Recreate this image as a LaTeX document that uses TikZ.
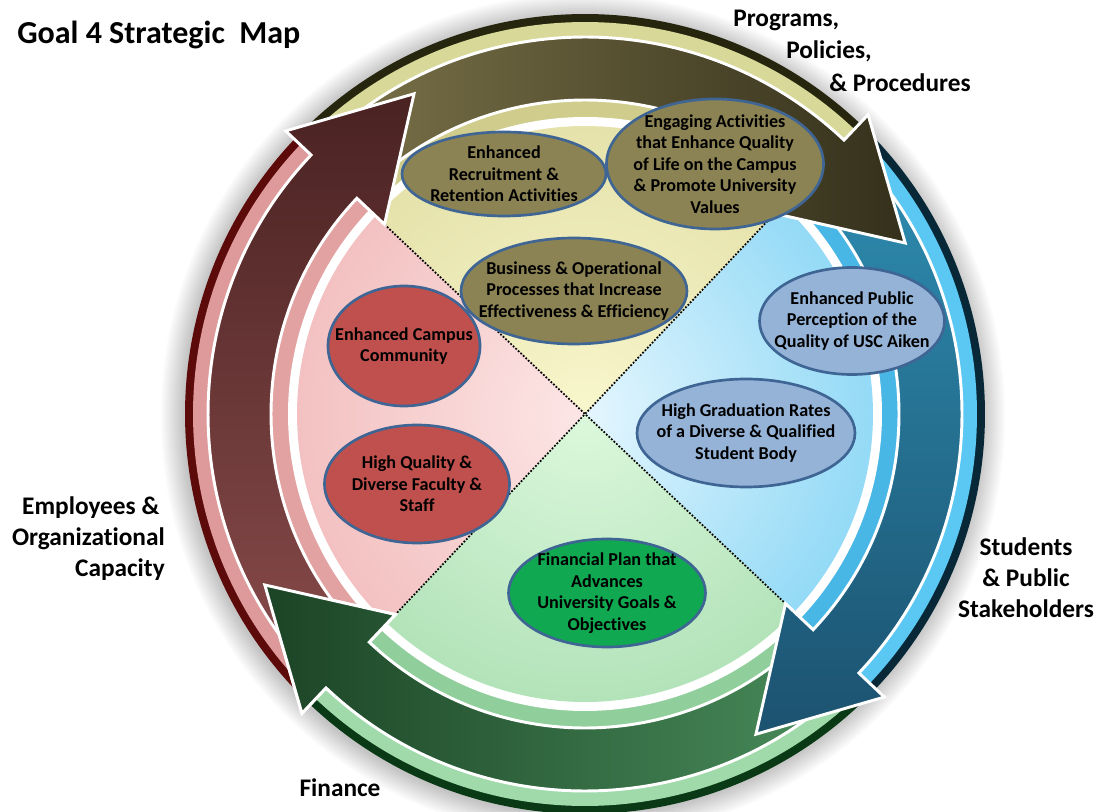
\documentclass[tikz,border=0pt]{standalone}
\usepackage{fontspec}
\setmainfont{Carlito}[Ligatures=NoCommon]
\usetikzlibrary{shapes.geometric}

% quadrant colours: rim dark, rim light, inner band, pie inner, pie outer, arrow light, arrow dark
\definecolor{rRim}{HTML}{5C0A0A}\definecolor{rLt}{HTML}{DE9A9A}\definecolor{rBand}{HTML}{E2A2A2}
\definecolor{rIn}{HTML}{FDE6E6}\definecolor{rOut}{HTML}{E99C9C}\definecolor{rAL}{HTML}{8A4C4C}\definecolor{rAD}{HTML}{4A2222}
\definecolor{oRim}{HTML}{26260F}\definecolor{oLt}{HTML}{D8D898}\definecolor{oBand}{HTML}{CFCC8C}
\definecolor{oIn}{HTML}{F8F6CC}\definecolor{oOut}{HTML}{D2CE8A}\definecolor{oAL}{HTML}{7C744A}\definecolor{oAD}{HTML}{34301B}
\definecolor{bRim}{HTML}{082838}\definecolor{bLt}{HTML}{5AC8F2}\definecolor{bBand}{HTML}{49B7E6}
\definecolor{bIn}{HTML}{E4F6FE}\definecolor{bOut}{HTML}{44BEEE}\definecolor{bAL}{HTML}{2E8EB2}\definecolor{bAD}{HTML}{1C5270}
\definecolor{gRim}{HTML}{0A3A15}\definecolor{gLt}{HTML}{A0DAAA}\definecolor{gBand}{HTML}{90CF9C}
\definecolor{gIn}{HTML}{DCF8DC}\definecolor{gOut}{HTML}{8ACE96}\definecolor{gAL}{HTML}{4A8E5C}\definecolor{gAD}{HTML}{1C4426}
\definecolor{eOlive}{HTML}{8B8354}\definecolor{eRed}{HTML}{C0504D}\definecolor{eGreen}{HTML}{10A850}
\definecolor{eBlue}{HTML}{95B3D7}\definecolor{eBorder}{HTML}{3F6594}

\newcommand\qsector[4]{\fill[#1] (0,0) -- (#2:#4) arc[start angle=#2, end angle=#3, radius=#4] -- cycle;}
\newcommand\qpie[4]{\begin{scope}\clip (0,0) -- (#1:288) arc[start angle=#1, end angle=#2, radius=288] -- cycle;
  \shade[inner color=#3, outer color=#4] (0,0) circle (576);\end{scope}}

\begin{document}
\begin{tikzpicture}[x=0.75pt,y=0.75pt,
  arr/.style={draw=white, line width=2.2pt, line join=miter},
  ov/.style={ellipse, draw=eBorder, line width=2pt, inner sep=0pt},
  etext/.style={align=center, inner sep=0pt, text=black,
    font=\bfseries\fontsize{13.6}{16.1}\selectfont},
  side/.style={inner sep=0pt, text=black, font=\bfseries\fontsize{19}{23.25}\selectfont}]
\useasboundingbox (0,0) rectangle (1098,811);
\fill[white] (0,0) rectangle (1098,811);

\begin{scope}[shift={(585,397)}]
  % soft shadow
  \foreach \i in {1,...,12} \fill[black, opacity=0.02] (-2,-2) circle ({398+2*\i});
  % right quadrant
  \qsector{bRim}{-43.4}{46.6}{400}\qsector{bLt}{-43.4}{46.6}{392}
  \qsector{bBand}{-43.4}{46.6}{314}\qsector{white}{-43.4}{46.6}{297}
  \qpie{-43.4}{46.6}{bIn}{bOut}
  % top quadrant
  \qsector{oRim}{46.6}{136.6}{400}\qsector{oLt}{46.6}{136.6}{392}
  \qsector{oBand}{46.6}{136.6}{314}\qsector{white}{46.6}{136.6}{297}
  \qpie{46.6}{136.6}{oIn}{oOut}
  % left quadrant
  \qsector{rRim}{136.6}{226.6}{400}\qsector{rLt}{136.6}{226.6}{392}
  \qsector{rBand}{136.6}{226.6}{314}\qsector{white}{136.6}{226.6}{297}
  \qpie{136.6}{226.6}{rIn}{rOut}
  % bottom quadrant
  \qsector{gRim}{226.6}{316.6}{400}\qsector{gLt}{226.6}{316.6}{392}
  \qsector{gBand}{226.6}{316.6}{314}\qsector{white}{226.6}{316.6}{297}
  \qpie{226.6}{316.6}{gIn}{gOut}
  % dotted diagonals
  \draw[black, line width=1.3pt, dash pattern=on 1.3pt off 1.3pt] (46.6:276) -- (226.6:276);
  \draw[black, line width=1.3pt, dash pattern=on 1.3pt off 1.3pt] (136.6:276) -- (316.6:276);
  % arrows (green, blue, olive, red, then green head again)
  \shadedraw[arr, right color=gAL, left color=gAD] (316.6:377) arc[start angle=316.6, end angle=226.6, radius=377]
    -- (226.6:412) -- (208.1:363) -- (226.6:276) -- (226.6:314) arc[start angle=226.6, end angle=316.6, radius=314] -- cycle;
  \shadedraw[arr, top color=bAL, bottom color=bAD] (46.6:377) arc[start angle=46.6, end angle=-43.4, radius=377]
    -- (-43.4:412) -- (-61.9:363) -- (-43.4:276) -- (-43.4:314) arc[start angle=-43.4, end angle=46.6, radius=314] -- cycle;
  \shadedraw[arr, left color=oAL, right color=oAD] (136.6:377) arc[start angle=136.6, end angle=46.6, radius=377]
    -- (46.6:412) -- (28.1:363) -- (46.6:276) -- (46.6:314) arc[start angle=46.6, end angle=136.6, radius=314] -- cycle;
  \shadedraw[arr, bottom color=rAL, top color=rAD] (226.6:377) arc[start angle=226.6, end angle=136.6, radius=377]
    -- (136.6:412) -- (118.1:363) -- (136.6:276) -- (136.6:314) arc[start angle=136.6, end angle=226.6, radius=314] -- cycle;
  \begin{scope}
    \clip (0,0) -- (200:460) arc[start angle=200, end angle=228.5, radius=460] -- cycle;
    \shadedraw[arr, right color=gAL, left color=gAD] (316.6:377) arc[start angle=316.6, end angle=226.6, radius=377]
      -- (226.6:412) -- (208.1:363) -- (226.6:276) -- (226.6:314) arc[start angle=226.6, end angle=316.6, radius=314] -- cycle;
  \end{scope}
\end{scope}

% ellipses
\node[ov, fill=eOlive, minimum width=153pt, minimum height=63pt] (e1) at (504,637) {};
\node[etext] (t1) at (e1.center) {Enhanced\\Recruitment \&\\Retention Activities};
\node[ov, fill=eOlive, minimum width=162.75pt, minimum height=97.5pt] (e2) at (715,647) {};
\node[etext] (t2) at (e2.center) {Engaging Activities\\that Enhance Quality\\of Life on the Campus\\\& Promote University\\Values};
\node[ov, fill=eOlive, minimum width=169.5pt, minimum height=79.5pt] (e3) at (574,520) {};
\node[etext] (t3) at (e3.center) {Business \& Operational\\Processes that Increase\\Effectiveness \& Efficiency};
\node[ov, fill=eRed, minimum width=114pt, minimum height=90pt] (e4) at (404,465) {};
\node[etext] (t4) at (e4.center) {Enhanced Campus\\Community};
\node[ov, fill=eRed, minimum width=138.75pt, minimum height=88.5pt] (e5) at (417,327) {};
\node[etext] (t5) at (e5.center) {High Quality \&\\Diverse Faculty \&\\Staff};
\node[ov, fill=eGreen, minimum width=147.75pt, minimum height=81pt] (e6) at (607,218) {};
\node[etext] (t6) at (e6.center) {Financial Plan that\\Advances\\University Goals \&\\Objectives};
\node[ov, fill=eBlue, minimum width=138.75pt, minimum height=80.25pt] (e7) at (852,490) {};
\node[etext] (t7) at (e7.center) {Enhanced Public\\Perception of the\\Quality of USC Aiken};
\node[ov, fill=eBlue, minimum width=163.5pt, minimum height=81pt] (e8) at (746,378) {};
\node[etext] (t8) at (e8.center) {High Graduation Rates\\of a Diverse \& Qualified\\Student Body};

% labels
\node[anchor=west, inner sep=0pt, font=\bfseries\fontsize{24}{28}\selectfont] (title) at (17,776) {Goal 4 Strategic\ \ Map};
\node[side, anchor=west] (p1) at (733,791) {Programs,};
\node[side, anchor=west] (p2) at (786,760) {Policies,};
\node[side, anchor=west] (p3) at (829,728) {\& Procedures};
\node[side, anchor=east, align=right] (emp) at (165,272) {Employees \&\hspace*{4pt}\\Organizational\\Capacity};
\node[side, align=center] (stu) at (1026,233) {Students\\\& Public\hspace*{18pt}\\Stakeholders};
\node[side] (fin) at (340,23) {Finance};
\end{tikzpicture}
\end{document}
